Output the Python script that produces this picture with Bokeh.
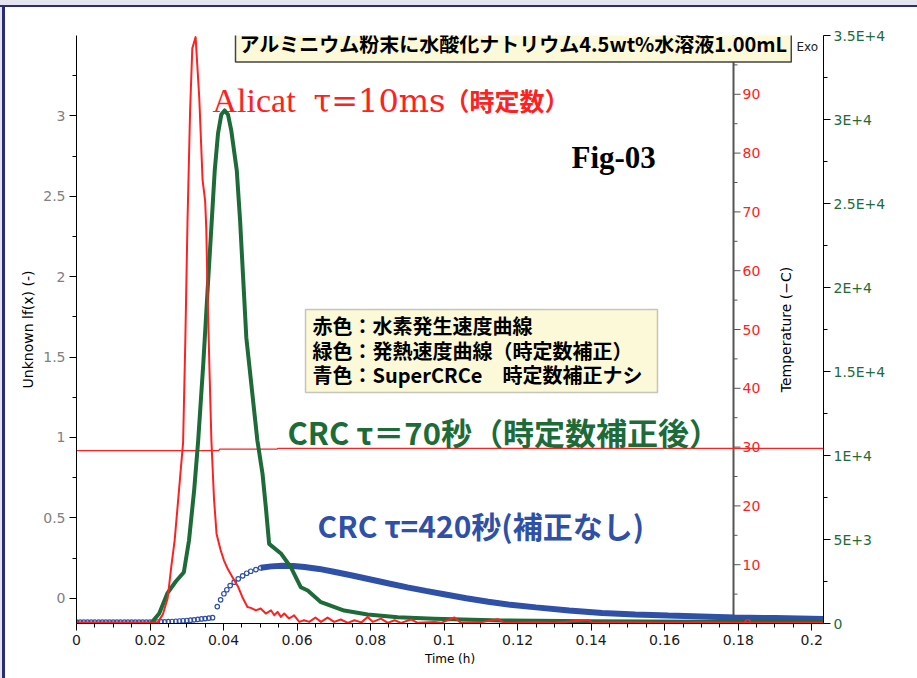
import math
from bokeh.plotting import figure
from bokeh.models import (Range1d, LinearAxis, FixedTicker, Label, LabelSet,
                          BoxAnnotation, ColumnDataSource, Div)
from bokeh.layouts import column, row
from bokeh.core.properties import value
from bokeh.embed import file_html
from bokeh.resources import INLINE

# ---------------- data ----------------
# Alicat hydrogen-rate curve (left axis, Unknown lf(x))
red_t = [0.0, 0.0100, 0.0220, 0.0235, 0.0248, 0.0258, 0.0267, 0.0278, 0.0290, 0.0296,
         0.0302, 0.0309, 0.0315, 0.0324, 0.0334, 0.0343, 0.0350, 0.0353, 0.0357, 0.0362,
         0.0367, 0.0374, 0.0381, 0.0392, 0.0401, 0.0412, 0.0429, 0.0440, 0.0451, 0.0465,
         0.0474, 0.0488, 0.0501, 0.0515, 0.0529, 0.0538, 0.0547, 0.0556, 0.0565, 0.0578,
         0.0592, 0.0606, 0.0619, 0.0633, 0.0650, 0.0665, 0.0683, 0.0701, 0.0719, 0.0738,
         0.0756, 0.0775, 0.0792, 0.0806, 0.0828, 0.0847, 0.0865, 0.0883, 0.0910, 0.0928,
         0.0974, 0.0992, 0.1028, 0.1046, 0.1100, 0.1146, 0.1164, 0.1250, 0.1300, 0.1391,
         0.1405, 0.1500, 0.1600, 0.1700, 0.1800, 0.1900, 0.2032]
red_v = [-0.153, -0.153, -0.153, -0.100, 0.000, 0.200, 0.360, 0.650, 0.970, 1.600,
         2.350, 3.030, 3.420, 3.490, 3.110, 2.600, 2.470, 2.300, 1.850, 1.400,
         0.980, 0.620, 0.400, 0.300, 0.236, 0.180, 0.112, 0.070, 0.008, -0.054,
         -0.060, -0.075, -0.064, -0.095, -0.075, -0.106, -0.085, -0.116, -0.095, -0.126,
         -0.106, -0.147, -0.137, -0.147, -0.120, -0.147, -0.120, -0.147, -0.132, -0.153,
         -0.137, -0.150, -0.116, -0.147, -0.127, -0.153, -0.137, -0.153, -0.132, -0.153,
         -0.147, -0.153, -0.120, -0.153, -0.150, -0.130, -0.153, -0.150, -0.153, -0.135,
         -0.153, -0.150, -0.153, -0.150, -0.153, -0.153, -0.153]

# CRC tau=70 s (heat flow axis, mW)
green_t = [0.0, 0.0100, 0.0202, 0.0225, 0.0247, 0.0270, 0.0292, 0.0306, 0.0320, 0.0331,
           0.0345, 0.0357, 0.0368, 0.0376, 0.0385, 0.0394, 0.0403, 0.0412, 0.0421, 0.0436,
           0.0445, 0.0462, 0.0492, 0.0506, 0.0515, 0.0524, 0.0556, 0.0583, 0.0610, 0.0629,
           0.0665, 0.0728, 0.0792, 0.0874, 0.0973, 0.1155, 0.1400, 0.1700, 0.2032]
green_v = [0, 0, 0, 600, 1790, 2500, 3050, 4940, 7920, 10890,
           15500, 20000, 23990, 26960, 29170, 30300, 30540, 30300, 29350, 26960,
           23990, 17000, 10890, 8910, 6930, 4740, 4170, 3350, 2160, 1960,
           1270, 770, 540, 375, 280, 180, 130, 110, 90]

# SuperCRCe, tau=420 s, uncorrected (heat flow axis) - sparse circles
blue_t = [0.000, 0.001, 0.002, 0.003, 0.004, 0.005, 0.006, 0.007, 0.008, 0.009,
          0.010, 0.011, 0.012, 0.013, 0.014, 0.015, 0.016, 0.017, 0.018, 0.019,
          0.020, 0.021, 0.022, 0.023, 0.024, 0.025, 0.026, 0.027, 0.028, 0.029,
          0.030, 0.031, 0.032, 0.033, 0.034, 0.035, 0.036, 0.037, 0.0383, 0.0392,
          0.0401, 0.0409, 0.0418, 0.0429, 0.0440, 0.0452, 0.0463, 0.0474, 0.0488, 0.0501]
blue_v = [80, 80, 80, 80, 80, 80, 80, 80, 80, 80,
          80, 80, 80, 80, 80, 80, 80, 80, 80, 80,
          80, 85, 90, 95, 100, 110, 120, 135, 150, 165,
          180, 200, 220, 245, 270, 295, 320, 345, 1010, 1410,
          1770, 2010, 2260, 2460, 2660, 2840, 2990, 3110, 3210, 3315]
# dense part of the same series (drawn as a solid band)
blue_tail_t = [0.0501, 0.0530, 0.0560, 0.0590, 0.0620, 0.0660, 0.0700, 0.0750, 0.0800,
               0.0850, 0.0900, 0.0950, 0.1000, 0.1060, 0.1120, 0.1180, 0.1250, 0.1340,
               0.1430, 0.1520, 0.1610, 0.1700, 0.1790, 0.1900, 0.2032]
blue_tail_v = [3315, 3400, 3440, 3420, 3360, 3250, 3080, 2860, 2620,
               2380, 2150, 1940, 1740, 1500, 1290, 1110, 960, 780,
               630, 530, 470, 420, 360, 320, 270]

# Temperature (deg C)
temp_t = [0.0, 0.0387, 0.0389, 0.0545, 0.0548, 0.2032]
temp_v = [29.4, 29.4, 29.65, 29.65, 29.8, 29.8]

# ticks
x_ticks = [0, 0.02, 0.04, 0.06, 0.08, 0.1, 0.12, 0.14, 0.16, 0.18, 0.2]
x_tick_labels = ["0", "0.02", "0.04", "0.06", "0.08", "0.1", "0.12", "0.14", "0.16", "0.18", "0.2"]
left_ticks = [0, 0.5, 1, 1.5, 2, 2.5, 3]
left_tick_labels = ["0", "0.5", "1", "1.5", "2", "2.5", "3"]
temp_ticks = [0, 10, 20, 30, 40, 50, 60, 70, 80, 90]
temp_tick_labels = ["0", "10", "20", "30", "40", "50", "60", "70", "80", "90"]
heat_ticks = [0, 5000, 10000, 15000, 20000, 25000, 30000, 35000]
heat_tick_labels = ["0", "5E+3", "1E+4", "1.5E+4", "2E+4", "2.5E+4", "3E+4", "3.5E+4"]

legend_lines = ["赤色：水素発生速度曲線",
                "緑色：発熱速度曲線（時定数補正）",
                "青色：SuperCRCe　時定数補正ナシ"]

assert len(red_t) == len(red_v)
assert len(green_t) == len(green_v)
assert len(blue_t) == len(blue_v)
assert len(blue_tail_t) == len(blue_tail_v)

# ---------------- layout ----------------
W, H = 917, 678
OX, OY = 5, 7                      # outer picture frame (left / top)
FL, FR, FT, FB = 76, 823, 35, 623  # plot frame in page pixels
X0, X1 = 0.0, 0.2032
Y0, Y1 = -0.157, 3.5
T0, T1 = 0.0, 100.0
Q0, Q1 = 0.0, 35000.0

def sx(px):
    return X0 + (px - FL) * (X1 - X0) / (FR - FL)

def sy(py):
    return Y1 - (py - FT) * (Y1 - Y0) / (FB - FT)

def dxp(n):
    return n * (X1 - X0) / (FR - FL)

RED = "#ff2020"
GREEN = "#1d6b38"
BLUE = "#2f50a7"
AXFONT = "DejaVu Sans"
JP = "Noto Sans CJK JP"
CREAM = "#fcf9d8"

p = figure(width=W - OX, height=H - OY, x_range=Range1d(X0, X1), y_range=Range1d(Y0, Y1),
           output_backend="svg", toolbar_location=None, margin=0,
           min_border_left=FL - OX, min_border_right=W - FR, min_border_top=FT - OY,
           min_border_bottom=H - FB,
           background_fill_color="white", border_fill_color="white")
p.extra_y_ranges = {"temp": Range1d(T0, T1), "heat": Range1d(Q0, Q1)}
p.outline_line_color = None
p.xgrid.visible = False
p.ygrid.visible = False

def style_axis(ax, label_color, line_color="black"):
    ax.axis_line_color = line_color
    ax.axis_line_width = 1
    ax.major_tick_line_color = line_color
    ax.minor_tick_line_color = line_color
    ax.major_tick_in = 0
    ax.major_tick_out = 7
    ax.minor_tick_in = 0
    ax.minor_tick_out = 4
    ax.major_label_text_font = AXFONT
    ax.major_label_text_font_size = "14px"
    ax.major_label_text_color = label_color
    ax.axis_label_text_font = AXFONT
    ax.axis_label_text_font_style = "normal"
    ax.axis_label_text_color = "black"

# bottom axis
xa = p.xaxis[0]
style_axis(xa, "#1a1a1a")
xa.ticker = FixedTicker(ticks=x_ticks, minor_ticks=[t + 0.005 * k for t in x_ticks for k in (1, 2, 3)])
xa.major_label_overrides = dict(zip(x_ticks, x_tick_labels))
xa.major_label_standoff = 4
xa.axis_label = "Time (h)"
xa.axis_label_text_font_size = "12px"
xa.axis_label_standoff = 4

# left axis
ya = p.yaxis[0]
style_axis(ya, "#808080")
ya.ticker = FixedTicker(ticks=left_ticks, minor_ticks=[t + 0.25 for t in left_ticks])
ya.major_label_overrides = dict(zip(left_ticks, left_tick_labels))
ya.major_label_standoff = 4
ya.axis_label = "Unknown lf(x) (-)"
ya.axis_label_text_font_size = "14px"
ya.axis_label_standoff = 4

# heat flow axis (right)
ha = LinearAxis(y_range_name="heat",
                ticker=FixedTicker(ticks=heat_ticks, minor_ticks=[t + 2500 for t in heat_ticks]),
                major_label_overrides=dict(zip(heat_ticks, heat_tick_labels)))
style_axis(ha, GREEN)
ha.major_label_standoff = 3
p.add_layout(ha, "right")
p.add_layout(Label(x=sx(905), y=17500, y_range_name="heat",
                   text="HeatFlow [081118A2] lif (mW)", angle=math.pi / 2,
                   text_font=AXFONT, text_font_size="14px", text_color="black",
                   text_align="center", text_baseline="middle"))

# temperature axis drawn inside the frame
ax_x = sx(733)
p.segment(x0=[ax_x], y0=[T0], x1=[ax_x], y1=[T1], y_range_name="temp",
          line_color="#555555", line_width=2)
p.segment(x0=[ax_x] * len(temp_ticks), y0=temp_ticks,
          x1=[ax_x + dxp(7)] * len(temp_ticks), y1=temp_ticks,
          y_range_name="temp", line_color="#555555", line_width=1)
temp_minor = [t + 5 for t in temp_ticks]
p.segment(x0=[ax_x] * len(temp_minor), y0=temp_minor,
          x1=[ax_x + dxp(4)] * len(temp_minor), y1=temp_minor,
          y_range_name="temp", line_color="#555555", line_width=1)
tsrc = ColumnDataSource(dict(x=[ax_x + dxp(9)] * len(temp_ticks), y=temp_ticks,
                             text=temp_tick_labels))
p.add_layout(LabelSet(x="x", y="y", text="text", source=tsrc, y_range_name="temp",
                      text_font=value(AXFONT), text_font_size="14px",
                      text_color=RED, text_baseline="middle", text_align="left"))
p.add_layout(Label(x=sx(785), y=50, y_range_name="temp", text="Temperature (\u2212C)",
                   angle=math.pi / 2, text_font=AXFONT, text_font_size="14px",
                   text_color="black", text_align="center", text_baseline="middle"))

# ---------------- series ----------------
p.line(temp_t, temp_v, y_range_name="temp", line_color=RED, line_width=1.2)
p.line(blue_tail_t, blue_tail_v, y_range_name="heat", line_color=BLUE, line_width=6)
p.scatter(blue_t, blue_v, y_range_name="heat", marker="circle", size=4.5,
          line_color=BLUE, line_width=1.2, fill_color=None)
p.line(green_t, green_v, y_range_name="heat", line_color=GREEN, line_width=4,
       line_join="round")
p.line(red_t, red_v, line_color=RED, line_width=2, line_join="round")

# ---------------- annotations ----------------
p.add_layout(Label(x=sx(235), y=sy(43),
                   text="アルミニウム粉末に水酸化ナトリウム4.5wt%水溶液1.00mL",
                   text_font=JP, text_font_style="bold", text_font_size="20px",
                   text_color="black", text_align="left", text_baseline="middle",
                   background_fill_color=CREAM, border_line_color="#444444",
                   border_line_width=1.5, padding=4))
p.add_layout(Label(x=sx(796), y=sy(46), text="Exo", text_font=AXFONT,
                   text_font_size="12px", text_color="#222222",
                   text_align="left", text_baseline="middle"))

p.add_layout(Label(x=sx(212), y=sy(100), text="Alicat", text_font="Liberation Serif",
                   text_font_size="34px", text_color=RED, text_align="left",
                   text_baseline="alphabetic"))
p.add_layout(Label(x=sx(313), y=sy(100), text="τ=10ms", text_font="DejaVu Serif",
                   text_font_size="32px", text_color=RED, text_align="left",
                   text_baseline="alphabetic"))
p.add_layout(Label(x=sx(444), y=sy(99), text="（時定数）", text_font=JP,
                   text_font_style="bold", text_font_size="25px", text_color=RED,
                   text_align="left", text_baseline="alphabetic"))

p.add_layout(Label(x=sx(571), y=sy(157), text="Fig-03", text_font="Liberation Serif",
                   text_font_style="bold", text_font_size="31px", text_color="black",
                   text_align="left", text_baseline="alphabetic"))

# legend box
p.add_layout(BoxAnnotation(left=sx(305), right=sx(657), top=sy(309), bottom=sy(392),
                           fill_color=CREAM, fill_alpha=1, line_color="#444444",
                           line_width=1.5))
for txt, ypx in zip(legend_lines, [325, 350, 374]):
    p.add_layout(Label(x=sx(312), y=sy(ypx), text=txt, text_font=JP,
                       text_font_style="bold", text_font_size="20px",
                       text_color="black", text_align="left", text_baseline="middle"))

p.add_layout(Label(x=sx(287), y=sy(431), text="CRC τ＝70秒（時定数補正後）",
                   text_font=JP, text_font_style="bold", text_font_size="31px",
                   text_color=GREEN, text_align="left", text_baseline="middle"))
p.add_layout(Label(x=sx(317), y=sy(524), text="CRC τ=420秒(補正なし)",
                   text_font=JP, text_font_style="bold", text_font_size="30px",
                   text_color=BLUE, text_align="left", text_baseline="middle"))

# outer frame of the original picture (lavender band + navy rule)
band = "#e4e4ee"
navy = "#2b2b78"
top1 = Div(text="", width=W, height=5, margin=0, styles={"background-color": band})
top2 = Div(text="", width=W, height=2, margin=0, styles={"background-color": navy})
left1 = Div(text="", width=2, height=H - OY, margin=0, styles={"background-color": band})
left2 = Div(text="", width=3, height=H - OY, margin=0, styles={"background-color": navy})
layout = column(top1, top2, row(left1, left2, p, spacing=0, margin=0), spacing=0, margin=0)

open("out.html", "w").write(file_html(layout, INLINE))
